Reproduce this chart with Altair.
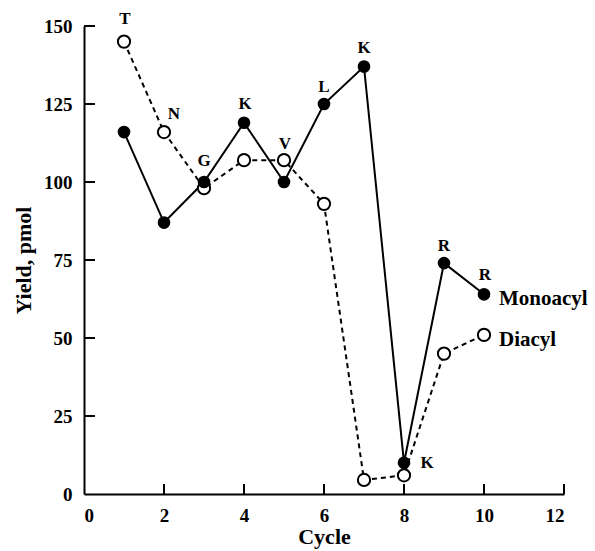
import altair as alt
import pandas as pd

cycles = [1, 2, 3, 4, 5, 6, 7, 8, 9, 10]
monoacyl = [116, 87, 100, 119, 100, 125, 137, 10, 74, 64]
diacyl = [145, 116, 98, 107, 107, 93, 4.5, 6, 45, 51]
residues = ["T", "N", "G", "K", "V", "L", "K", "K", "R", "R"]
label_on = ["D", "D", "M", "M", "D", "M", "M", "M", "M", "M"]
x_ticks = [2, 4, 6, 8, 10, 12]
y_ticks = [25, 50, 75, 100, 125, 150]

FONT = "Liberation Serif"

df = pd.DataFrame({
    "cycle": cycles * 2,
    "yield": monoacyl + diacyl,
    "series": ["Monoacyl"] * 10 + ["Diacyl"] * 10,
})

lab_y = [monoacyl[i] if s == "M" else diacyl[i] for i, s in enumerate(label_on)]
lab_dx = [1, 10, 0, 1, 1, 0, 0, 23, 0, 1]
lab_dy = [-23, -18, -21, -19, -16, -17, -19, 0, -17, -19]
labels = pd.DataFrame({"cycle": cycles, "yield": lab_y, "text": residues,
                       "dx": lab_dx, "dy": lab_dy})

xs = alt.Scale(domain=[0, 12], nice=False)
ys = alt.Scale(domain=[0, 150], nice=False)

xaxis = alt.Axis(values=[0, 2, 4, 6, 8, 10, 12], ticks=False, grid=False,
                 domainColor="black", domainWidth=2, labelFont=FONT,
                 labelFontSize=19, labelFontWeight="bold", labelColor="black",
                 labelPadding=12, title="Cycle", titleFont=FONT,
                 titleFontSize=22, titleFontWeight="bold", titleColor="black",
                 titlePadding=1)
yaxis = alt.Axis(values=[0] + y_ticks, ticks=False, grid=False,
                 domainColor="black", domainWidth=2, labelFont=FONT,
                 labelFontSize=19, labelFontWeight="bold", labelColor="black",
                 labelPadding=12, title="Yield, pmol", titleFont=FONT,
                 titleFontSize=22, titleFontWeight="bold", titleColor="black",
                 titlePadding=8)

base = alt.Chart(df)

mono_line = base.transform_filter(alt.datum.series == "Monoacyl").mark_line(
    color="black", strokeWidth=2).encode(
    x=alt.X("cycle:Q", scale=xs, axis=xaxis),
    y=alt.Y("yield:Q", scale=ys, axis=yaxis))
di_line = base.transform_filter(alt.datum.series == "Diacyl").mark_line(
    color="black", strokeWidth=2, strokeDash=[5, 4]).encode(
    x=alt.X("cycle:Q", scale=xs), y=alt.Y("yield:Q", scale=ys))
di_pts = base.transform_filter(alt.datum.series == "Diacyl").mark_point(
    shape="circle", size=150, filled=True, fill="white", stroke="black",
    strokeWidth=2, opacity=1).encode(
    x=alt.X("cycle:Q", scale=xs), y=alt.Y("yield:Q", scale=ys))
mono_pts = base.transform_filter(alt.datum.series == "Monoacyl").mark_point(
    shape="circle", size=160, filled=True, color="black", opacity=1).encode(
    x=alt.X("cycle:Q", scale=xs), y=alt.Y("yield:Q", scale=ys))

text_layers = []
for _, r in labels.iterrows():
    text_layers.append(
        alt.Chart(pd.DataFrame([r.to_dict()])).mark_text(
            font=FONT, fontSize=17, fontWeight="bold", color="black",
            dx=float(r["dx"]), dy=float(r["dy"]), align="center",
            baseline="middle").encode(
            x=alt.X("cycle:Q", scale=xs), y=alt.Y("yield:Q", scale=ys),
            text="text:N"))

legend_df = pd.DataFrame({"cycle": [10, 10], "yield": [monoacyl[9], diacyl[9]],
                          "text": ["Monoacyl", "Diacyl"]})
legend_text = alt.Chart(legend_df).mark_text(
    font=FONT, fontSize=21, fontWeight="bold", color="black", align="left",
    dx=15, dy=5, baseline="middle").encode(
    x=alt.X("cycle:Q", scale=xs), y=alt.Y("yield:Q", scale=ys), text="text:N")

xt = pd.DataFrame({"cycle": x_ticks})
x_tick_marks = alt.Chart(xt).mark_rule(color="black", strokeWidth=2).encode(
    x=alt.X("cycle:Q", scale=xs), y=alt.value(468), y2=alt.value(458))
yt = pd.DataFrame({"yield": y_ticks})
y_tick_marks = alt.Chart(yt).mark_rule(color="black", strokeWidth=2).encode(
    y=alt.Y("yield:Q", scale=ys), x=alt.value(0), x2=alt.value(11))

chart = alt.layer(mono_line, di_line, x_tick_marks, y_tick_marks, di_pts,
                  mono_pts, *text_layers, legend_text).properties(
    width=480, height=468, autosize=alt.AutoSizeParams(type="none"),
    padding={"left": 84, "top": 26, "right": 31, "bottom": 57},
    background="white",
).configure_view(stroke=None)

chart.save("out.html", embed_options={"renderer": "svg", "actions": False})
